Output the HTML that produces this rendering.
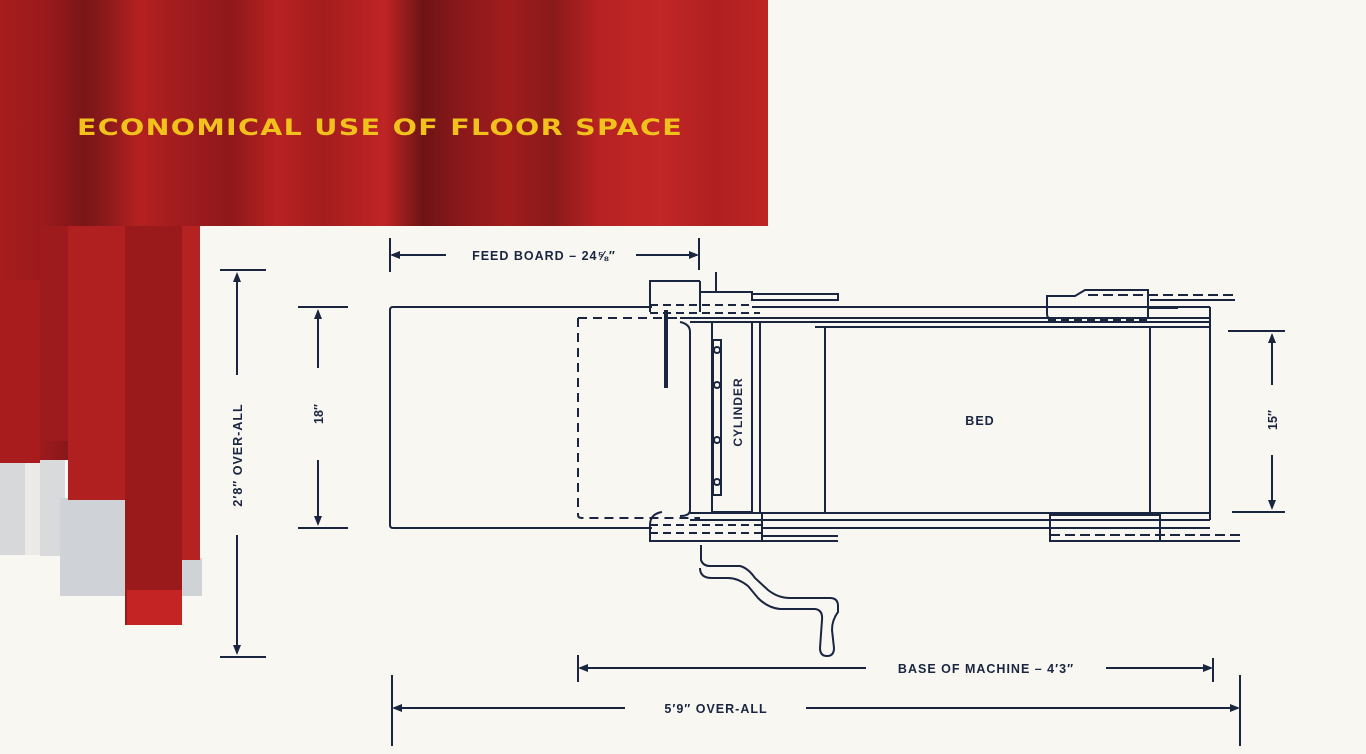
<!DOCTYPE html>
<html><head><meta charset="utf-8"><style>
html,body{margin:0;padding:0;background:#f8f7f2;}
svg{display:block;}
text{font-family:"Liberation Sans",sans-serif;font-weight:bold;fill:#1a2540;}
</style></head><body>
<svg width="1366" height="754" viewBox="0 0 1366 754" xmlns="http://www.w3.org/2000/svg">
<defs>
<linearGradient id="rg" gradientUnits="userSpaceOnUse" x1="0" y1="0" x2="768" y2="0">
<stop offset="0" stop-color="#a81c1c"/>
<stop offset="0.06" stop-color="#9a1a1c"/>
<stop offset="0.11" stop-color="#7a1518"/>
<stop offset="0.14" stop-color="#8c1a1c"/>
<stop offset="0.18" stop-color="#b42020"/>
<stop offset="0.24" stop-color="#a01c1e"/>
<stop offset="0.3" stop-color="#8e181a"/>
<stop offset="0.36" stop-color="#b82222"/>
<stop offset="0.42" stop-color="#a41d1e"/>
<stop offset="0.5" stop-color="#c02424"/>
<stop offset="0.55" stop-color="#6e1416"/>
<stop offset="0.6" stop-color="#8a181a"/>
<stop offset="0.66" stop-color="#a01c1c"/>
<stop offset="0.72" stop-color="#8a1a1a"/>
<stop offset="0.78" stop-color="#b82222"/>
<stop offset="0.86" stop-color="#c22626"/>
<stop offset="0.93" stop-color="#b02020"/>
<stop offset="1" stop-color="#be2424"/>
</linearGradient>
</defs>
<rect x="0" y="460" width="25" height="95" fill="#d6d8da"/>
<rect x="25" y="460" width="15" height="95" fill="#eceae6"/>
<rect x="40" y="441" width="25" height="115" fill="#d8dadc"/>
<rect x="60" y="498" width="125" height="98" fill="#cfd2d6"/>
<rect x="182" y="558" width="20" height="38" fill="#d0d3d6"/>
<rect x="0" y="0" width="768" height="226" fill="url(#rg)"/>
<rect x="0" y="226" width="200" height="234" fill="url(#rg)"/>
<rect x="0" y="280" width="40" height="183" fill="#a81c1e"/>
<rect x="40" y="226" width="28" height="215" fill="#9e1b1d"/>
<rect x="68" y="226" width="57" height="274" fill="#b02020"/>
<rect x="125" y="226" width="57" height="399" fill="#9a1a1c"/>
<rect x="127" y="590" width="55" height="35" fill="#c42424"/>
<rect x="182" y="226" width="18" height="334" fill="#b42222"/>
<text x="77" y="135" textLength="606" lengthAdjust="spacingAndGlyphs" style="font-size:22px;letter-spacing:1px;fill:#f2c21c;font-family:'DejaVu Sans','Liberation Sans',sans-serif;">ECONOMICAL USE OF FLOOR SPACE</text>

<g stroke="#1a2540" stroke-width="2" fill="none">
<line x1="390" y1="238" x2="390" y2="272"/><line x1="699" y1="238" x2="699" y2="270"/>
<line x1="392" y1="255" x2="446" y2="255"/><line x1="636" y1="255" x2="697" y2="255"/>
<line x1="220" y1="270" x2="266" y2="270"/><line x1="220" y1="657" x2="266" y2="657"/>
<line x1="237" y1="274" x2="237" y2="375"/><line x1="237" y1="535" x2="237" y2="653"/>
<line x1="298" y1="307" x2="348" y2="307"/><line x1="298" y1="528" x2="348" y2="528"/>
<line x1="318" y1="311" x2="318" y2="368"/><line x1="318" y1="460" x2="318" y2="524"/>
<line x1="1228" y1="331" x2="1285" y2="331"/><line x1="1232" y1="512" x2="1285" y2="512"/>
<line x1="1272" y1="335" x2="1272" y2="385"/><line x1="1272" y1="455" x2="1272" y2="508"/>
<line x1="578" y1="655" x2="578" y2="682"/><line x1="1213" y1="658" x2="1213" y2="682"/>
<line x1="580" y1="668" x2="866" y2="668"/><line x1="1106" y1="668" x2="1211" y2="668"/>
<line x1="392" y1="675" x2="392" y2="746"/><line x1="1240" y1="675" x2="1240" y2="746"/>
<line x1="394" y1="708" x2="625" y2="708"/><line x1="806" y1="708" x2="1238" y2="708"/>

<path d="M652 307 H393 Q390 307 390 310 V525 Q390 528 393 528 H652"/>
<path d="M578 318 H700 M578 318 Q578 318 578 322 V515 Q578 518 582 518 H700" stroke-dasharray="9 6"/>
<path d="M650 312 V281 H700 M700 281 V312 M700 292 H752 V300 H838 V294 H752"/>
<line x1="650" y1="305" x2="752" y2="305" stroke-dasharray="8 5"/>
<line x1="650" y1="313" x2="760" y2="313" stroke-dasharray="8 5"/>
<line x1="716" y1="272" x2="716" y2="292"/>
<line x1="666" y1="310" x2="666" y2="388" stroke-width="4"/>
<line x1="752" y1="307" x2="1210" y2="307"/>
<line x1="680" y1="318" x2="1210" y2="318"/>
<line x1="690" y1="322" x2="1210" y2="322"/>
<line x1="815" y1="327" x2="1210" y2="327"/>
<line x1="1210" y1="307" x2="1210" y2="520"/>
<path d="M680 322 Q690 324 690 332 V510 Q690 516 680 516"/>
<rect x="712" y="322" width="40" height="190"/>
<line x1="760" y1="322" x2="760" y2="512"/>
<rect x="713" y="340" width="8" height="155"/>
<circle cx="717" cy="350" r="3"/><circle cx="717" cy="385" r="3"/><circle cx="717" cy="440" r="3"/><circle cx="717" cy="482" r="3"/>
<line x1="825" y1="327" x2="825" y2="513"/>
<line x1="1150" y1="327" x2="1150" y2="513"/>
<line x1="690" y1="513" x2="1210" y2="513"/>
<line x1="690" y1="520" x2="1210" y2="520"/>
<path d="M662 512 Q650 514 650 525 V541 H762 V512"/>
<line x1="650" y1="525" x2="762" y2="525" stroke-dasharray="8 5"/>
<line x1="650" y1="533" x2="762" y2="533" stroke-dasharray="8 5"/>
<line x1="762" y1="528" x2="1210" y2="528"/>
<line x1="762" y1="541" x2="838" y2="541"/>
<line x1="762" y1="536" x2="838" y2="536"/>
<path d="M1047 296 H1075 L1085 290 H1148 V318 H1050 Q1047 318 1047 314 Z"/>
<line x1="1088" y1="295" x2="1235" y2="295" stroke-dasharray="10 5"/>
<line x1="1150" y1="300" x2="1235" y2="300"/>
<line x1="1148" y1="308" x2="1178" y2="308"/>
<line x1="1048" y1="320" x2="1148" y2="320" stroke-dasharray="8 5"/>
<rect x="1050" y="515" width="110" height="26"/>
<line x1="1050" y1="535" x2="1240" y2="535" stroke-dasharray="10 5"/>
<line x1="1160" y1="541" x2="1240" y2="541"/>
<path d="M701 545 V560 Q703 566 710 566 H740 Q748 568 755 578 L768 590 Q778 598 790 598 H830 Q838 598 838 606 V612 Q832 620 832 630 L834 648 Q834 656 827 656 Q820 656 820 648 L822 620 Q823 610 815 609 H780 Q768 608 758 598 L748 586 Q738 578 728 578 H712 Q700 578 700 568"/>
</g>
<g fill="#1a2540">
<path d="M390 255 l10 -4 v8 z"/><path d="M699 255 l-10 -4 v8 z"/>
<path d="M237 272 l-4 10 h8 z"/><path d="M237 655 l-4 -10 h8 z"/>
<path d="M318 309 l-4 10 h8 z"/><path d="M318 526 l-4 -10 h8 z"/>
<path d="M1272 333 l-4 10 h8 z"/><path d="M1272 510 l-4 -10 h8 z"/>
<path d="M578 668 l10 -4 v8 z"/><path d="M1213 668 l-10 -4 v8 z"/>
<path d="M392 708 l10 -4 v8 z"/><path d="M1240 708 l-10 -4 v8 z"/>
</g>
<text x="544" y="260" text-anchor="middle" style="font-size:12.5px;letter-spacing:1px;">FEED BOARD – 24⅝″</text>
<text x="986" y="673" text-anchor="middle" style="font-size:12.5px;letter-spacing:1px;">BASE OF MACHINE – 4′3″</text>
<text x="716" y="713" text-anchor="middle" style="font-size:12.5px;letter-spacing:1px;">5′9″  OVER-ALL</text>
<text x="980" y="425" text-anchor="middle" style="font-size:12.5px;letter-spacing:1px;">BED</text>
<text transform="translate(742,412) rotate(-90)" text-anchor="middle" style="font-size:12px;letter-spacing:1px;">CYLINDER</text>
<text transform="translate(242,455) rotate(-90)" text-anchor="middle" style="font-size:12.5px;letter-spacing:1px;">2′8″  OVER-ALL</text>
<text transform="translate(323,414) rotate(-90)" text-anchor="middle" style="font-size:12.5px;">18″</text>
<text transform="translate(1277,420) rotate(-90)" text-anchor="middle" style="font-size:12.5px;">15″</text>
</svg>
</body></html>
